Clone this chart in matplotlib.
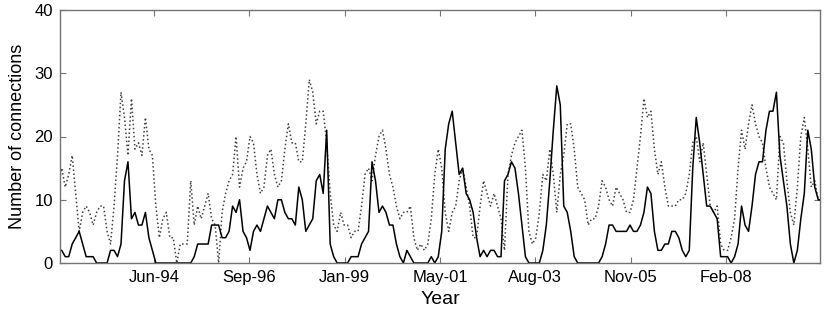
import matplotlib
matplotlib.use("Agg")
import matplotlib.pyplot as plt
import numpy as np

plt.rcParams['font.family'] = ['Liberation Sans', 'DejaVu Sans']

# months since Jan-1992 (index 0 = Jan-92); data starts at month 2
start_month = 2

solid = [
    2, 2, 1, 1, 3, 4, 5, 3, 1, 1, 1, 0, 0, 0, 0, 2, 2, 1, 3, 13, 16, 7, 8, 6, 6, 8, 4, 2,   # m2-m29
    0, 0, 0, 0, 0, 0, 0, 0, 0, 0, 0, 1, 3, 3, 3, 3, 6, 6, 6, 4, 4, 5, 9, 8, 10, 5, 4,       # m30-m56
    2, 5, 6, 5, 7, 9, 8, 7, 10, 10, 8, 7, 7, 6, 12, 10, 5, 6, 7, 13, 14, 11, 21, 3, 1, 0, 0, 0,  # m57-m84
    0, 1, 1, 1, 3, 4, 5, 16, 13, 8, 9, 8, 6, 6, 3, 1, 0, 2, 1, 0, 0, 0, 0, 0, 1, 0, 1,      # m85-m111
    5, 18, 22, 24, 19, 14, 15, 11, 10, 8, 4, 1, 2, 1, 2, 2, 1, 1, 13, 14, 16, 15, 11, 6, 1, 0, 0,  # m112-m138
    0, 0, 2, 6, 13, 21, 28, 25, 9, 8, 5, 1, 0, 0, 0, 0, 0, 0, 0, 1, 3, 6, 6, 5, 5, 5, 5,    # m139-m165
    6, 5, 5, 6, 8, 12, 11, 5, 2, 2, 3, 3, 5, 5, 4, 2, 1, 2, 15, 23, 19, 14, 9, 9, 8, 7, 1,  # m166-m192
    1, 1, 0, 1, 3, 9, 6, 5, 9, 14, 16, 16, 21, 24, 24, 27, 17, 13, 9, 3, 0, 2, 7, 11, 21, 18, 12, 10, 10,  # m193-m221
]

dotted = [
    12, 15, 12, 14, 17, 11, 5, 8, 9, 8, 6, 8, 9, 9, 5, 3, 9, 17, 27, 23, 17, 26, 18, 19, 17, 23, 18, 17,  # m2-m29
    9, 4, 7, 8, 4, 4, 0, 3, 3, 3, 13, 6, 9, 7, 9, 11, 7, 6, 0, 8, 11, 13, 14, 20, 12, 15, 16,  # m30-m56
    20, 19, 14, 11, 12, 17, 18, 14, 12, 13, 18, 22, 19, 19, 16, 16, 22, 29, 27, 22, 24, 24, 19, 11, 6, 5, 8, 6,  # m57-m84
    6, 4, 5, 5, 9, 14, 15, 13, 17, 20, 21, 18, 14, 12, 9, 7, 8, 8, 9, 4, 2, 3, 2, 3, 7, 14, 18,  # m85-m111
    15, 8, 5, 8, 9, 13, 15, 12, 9, 4, 4, 9, 13, 11, 9, 11, 9, 7, 2, 14, 17, 19, 20, 21, 15, 5, 3,  # m112-m138
    4, 8, 14, 13, 18, 14, 8, 14, 17, 22, 22, 18, 12, 11, 10, 6, 7, 7, 9, 13, 12, 10, 9, 12, 11, 10, 8,  # m139-m165
    8, 10, 15, 20, 26, 23, 24, 18, 14, 16, 12, 9, 9, 9, 10, 10, 11, 14, 19, 20, 16, 19, 14, 9, 8, 9, 3,  # m166-m192
    2, 2, 4, 7, 15, 21, 18, 22, 25, 22, 20, 19, 15, 12, 11, 10, 20, 19, 13, 8, 6, 12, 20, 23, 18, 12, 13, 10, 10,  # m193-m221
]

tick_labels = ['Jun-94', 'Sep-96', 'Jan-99', 'May-01', 'Aug-03', 'Nov-05', 'Feb-08']
first_tick = 29.5
tick_step = 27.33
tick_pos = [first_tick + i * tick_step for i in range(len(tick_labels))]

x = np.arange(start_month, start_month + len(solid))
assert len(solid) == len(dotted)

fig = plt.figure(figsize=(8.3, 3.18), dpi=100)
ax = fig.add_axes([60/830, 1 - 263/318, 760/830, 253/318])

ax.plot(x, dotted, linestyle=':', color='0.25', linewidth=1.1)
ax.plot(x, solid, linestyle='-', color='black', linewidth=1.1)

ax.set_xlim(2.5, 220.5)
ax.set_ylim(0, 40)
ax.set_yticks([0, 10, 20, 30, 40])
ax.set_xticks(tick_pos)
ax.set_xticklabels(tick_labels)
ax.tick_params(direction='in', top=True, right=True, labelsize=12, length=4,
               color='0.45', width=0.8, pad=5)
for s in ax.spines.values():
    s.set_color('0.45')
    s.set_linewidth(1.0)

ax.set_xlabel('Year', fontsize=14, labelpad=4)
ax.set_ylabel('Number of connections', fontsize=13, labelpad=6)

fig.savefig('out.png', dpi=100)
